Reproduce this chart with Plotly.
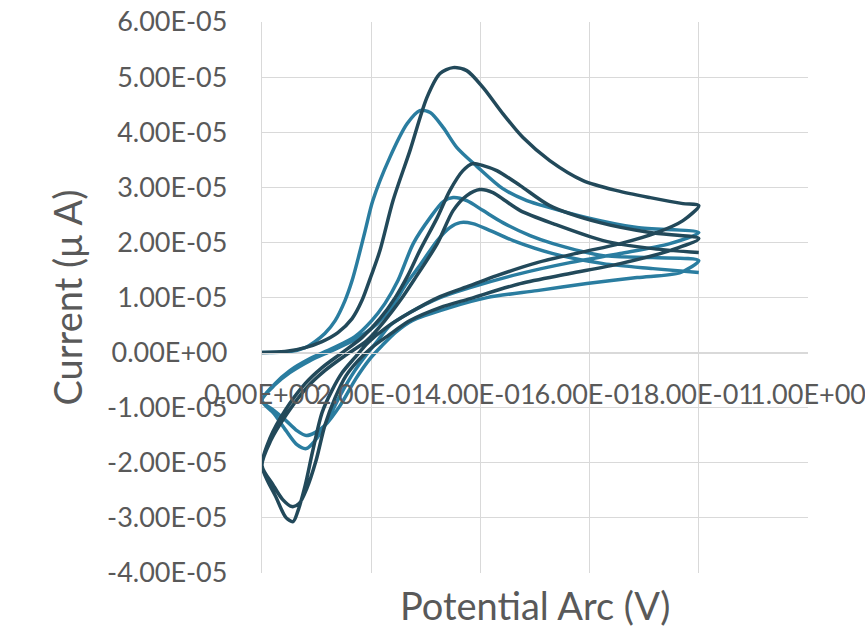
import plotly.graph_objects as go

# ---------------- data (potential in V, current in units of 1E-05 A) ----------------
# Dark series: three cycles (forward 1, reverse 1, forward 2, reverse 2, forward 3)
dark_fwd1_v = [0, 0.042, 0.079, 0.110, 0.139, 0.165, 0.183, 0.200, 0.216, 0.240, 0.271, 0.302, 0.326, 0.350,
               0.375, 0.405, 0.441, 0.478, 0.527, 0.588, 0.650, 0.711, 0.771, 0.80]
dark_fwd1_i = [0, 0.018, 0.091, 0.20, 0.363, 0.617, 0.944, 1.397, 1.851, 2.759, 3.666, 4.628, 5.064, 5.172,
               5.118, 4.809, 4.338, 3.902, 3.485, 3.122, 2.940, 2.813, 2.704, 2.668]
dark_rev1_v = [0.80, 0.771, 0.723, 0.656, 0.582, 0.504, 0.430, 0.381, 0.326, 0.271, 0.225, 0.194, 0.170, 0.147,
               0.128, 0.110, 0.093, 0.079, 0.066, 0.057, 0.044, 0.026, 0]
dark_rev1_i = [2.668, 2.396, 2.178, 1.978, 1.815, 1.633, 1.397, 1.216, 1.016, 0.726, 0.436, 0.181, -0.091, -0.363,
               -0.690, -1.089, -1.779, -2.414, -2.868, -3.067, -2.995, -2.632, -2.051]
dark_fwd2_v = [0, 0.015, 0.042, 0.079, 0.110, 0.147, 0.183, 0.216, 0.244, 0.267, 0.289, 0.321, 0.344, 0.368,
               0.386, 0.405, 0.430, 0.473, 0.527, 0.619, 0.711, 0.80]
dark_fwd2_i = [-2.051, -1.543, -1.053, -0.563, -0.272, 0, 0.272, 0.617, 0.998, 1.397, 1.851, 2.450, 2.940, 3.303,
               3.430, 3.394, 3.303, 3.031, 2.668, 2.359, 2.178, 2.069]
dark_rev2_v = [0.80, 0.747, 0.656, 0.564, 0.473, 0.381, 0.326, 0.271, 0.231, 0.201, 0.176, 0.154, 0.134, 0.115,
               0.099, 0.082, 0.068, 0.055, 0.038, 0.020, 0]
dark_rev2_i = [2.069, 1.851, 1.615, 1.434, 1.252, 0.980, 0.817, 0.581, 0.309, 0.091, -0.145, -0.417, -0.817, -1.325,
               -1.960, -2.468, -2.740, -2.795, -2.668, -2.396, -2.051]
dark_fwd3_v = [0, 0.016, 0.046, 0.082, 0.115, 0.152, 0.192, 0.225, 0.253, 0.280, 0.321, 0.350, 0.375, 0.399,
               0.423, 0.445, 0.473, 0.533, 0.625, 0.716, 0.80]
dark_fwd3_i = [-2.051, -1.597, -1.107, -0.635, -0.327, -0.054, 0.218, 0.581, 0.944, 1.343, 1.978, 2.577, 2.849, 2.958,
               2.904, 2.759, 2.577, 2.341, 2.033, 1.887, 1.815]

# Light series: three cycles
light_fwd1_v = [0, 0.051, 0.079, 0.097, 0.115, 0.134, 0.152, 0.165, 0.176, 0.189, 0.203, 0.234, 0.266, 0.289,
                0.308, 0.332, 0.357, 0.394, 0.441, 0.485, 0.527, 0.595, 0.687, 0.80]
light_fwd1_i = [0, 0.018, 0.091, 0.200, 0.345, 0.581, 0.944, 1.307, 1.706, 2.214, 2.759, 3.539, 4.156, 4.392,
                4.356, 4.083, 3.721, 3.376, 2.976, 2.759, 2.632, 2.450, 2.269, 2.178]
light_rev1_v = [0.80, 0.747, 0.656, 0.564, 0.473, 0.381, 0.326, 0.271, 0.234, 0.212, 0.194, 0.170, 0.143, 0.115,
                0.097, 0.081, 0.064, 0.044, 0.022, 0]
light_rev1_i = [2.178, 1.978, 1.797, 1.633, 1.434, 1.180, 0.998, 0.726, 0.490, 0.218, 0, -0.327, -0.780, -1.325,
                -1.597, -1.742, -1.670, -1.416, -1.107, -0.871]
light_fwd2_v = [0, 0.024, 0.051, 0.088, 0.128, 0.170, 0.201, 0.225, 0.249, 0.277, 0.308, 0.332, 0.350, 0.375,
                0.405, 0.441, 0.491, 0.533, 0.625, 0.716, 0.80]
light_fwd2_i = [-0.871, -0.563, -0.327, -0.109, 0.073, 0.290, 0.581, 0.889, 1.307, 1.978, 2.450, 2.740, 2.813, 2.759,
                2.577, 2.359, 2.123, 1.978, 1.760, 1.724, 1.670]
light_rev2_v = [0.80, 0.766, 0.687, 0.595, 0.504, 0.412, 0.344, 0.275, 0.244, 0.220, 0.198, 0.172, 0.143, 0.115,
                0.097, 0.081, 0.064, 0.044, 0.022, 0]
light_rev2_i = [1.670, 1.452, 1.361, 1.252, 1.125, 0.998, 0.817, 0.581, 0.363, 0.127, -0.109, -0.472, -0.962, -1.325,
                -1.452, -1.506, -1.416, -1.234, -1.053, -0.871]
light_fwd3_v = [0, 0.024, 0.051, 0.088, 0.128, 0.174, 0.211, 0.240, 0.262, 0.289, 0.321, 0.344, 0.363, 0.386,
                0.418, 0.460, 0.533, 0.625, 0.716, 0.80]
light_fwd3_i = [-0.871, -0.581, -0.363, -0.145, 0.036, 0.254, 0.526, 0.853, 1.216, 1.579, 2.033, 2.269, 2.359, 2.341,
                2.214, 2.033, 1.797, 1.615, 1.524, 1.452]

CURRENT_UNIT = 1e-5

x_tick_vals = [0, 0.2, 0.4, 0.6, 0.8, 1.0]
x_tick_text = ["0.00E+00", "2.00E-01", "4.00E-01", "6.00E-01", "8.00E-01", "1.00E+00"]
y_tick_vals = [6e-5, 5e-5, 4e-5, 3e-5, 2e-5, 1e-5, 0, -1e-5, -2e-5, -3e-5, -4e-5]
y_tick_text = ["6.00E-05", "5.00E-05", "4.00E-05", "3.00E-05", "2.00E-05", "1.00E-05",
               "0.00E+00", "-1.00E-05", "-2.00E-05", "-3.00E-05", "-4.00E-05"]

x_title = "Potential Arc (V)"
y_title = "Current (\u03bc A)"

DARK = "#22495a"
LIGHT = "#2a7da0"
GRID = "#d9d9d9"
TEXT = "#595959"
FONT = "Lato"


def join(*parts):
    out = []
    for p in parts:
        out.extend(p if not out else p[1:])
    return out


dark_v = join(dark_fwd1_v, dark_rev1_v, dark_fwd2_v, dark_rev2_v, dark_fwd3_v)
dark_i = [c * CURRENT_UNIT for c in join(dark_fwd1_i, dark_rev1_i, dark_fwd2_i, dark_rev2_i, dark_fwd3_i)]
light_v = join(light_fwd1_v, light_rev1_v, light_fwd2_v, light_rev2_v, light_fwd3_v)
light_i = [c * CURRENT_UNIT for c in join(light_fwd1_i, light_rev1_i, light_fwd2_i, light_rev2_i, light_fwd3_i)]

fig = go.Figure()
fig.add_trace(go.Scatter(x=light_v, y=light_i, mode="lines",
                         line=dict(color=LIGHT, width=3.5, shape="spline", smoothing=0.8),
                         name="light", hoverinfo="skip"))
fig.add_trace(go.Scatter(x=dark_v, y=dark_i, mode="lines",
                         line=dict(color=DARK, width=3.5, shape="spline", smoothing=0.8),
                         name="dark", hoverinfo="skip"))

fig.update_layout(
    width=865, height=638,
    margin=dict(l=262, r=57, t=22, b=65),
    plot_bgcolor="white", paper_bgcolor="white",
    showlegend=False,
    font=dict(family=FONT, color=TEXT),
    xaxis=dict(
        range=[0, 1.0], tickvals=x_tick_vals, ticktext=x_tick_text,
        showgrid=True, gridcolor=GRID, gridwidth=1.3,
        anchor="free", position=0.4, automargin=False,
        showline=True, linecolor=GRID, linewidth=1.3,
        zeroline=False, ticks="", tickangle=0, ticklabeloverflow="allow",
        tickfont=dict(size=27, color=TEXT, family=FONT),
        ticklabelstandoff=18,
    ),
    yaxis=dict(
        range=[-4e-5, 6e-5], tickvals=y_tick_vals, ticktext=y_tick_text,
        showgrid=True, gridcolor=GRID, gridwidth=1.3, automargin=False,
        showline=True, linecolor=GRID, linewidth=1.3,
        zeroline=False, ticks="", tickfont=dict(size=27, color=TEXT, family=FONT),
        ticklabelstandoff=28,
        title=dict(text=y_title, font=dict(size=38, color=TEXT, family=FONT), standoff=12),
    ),
    annotations=[dict(text=x_title, xref="paper", yref="paper", x=0.5, y=-0.058,
                      xanchor="center", yanchor="middle", showarrow=False,
                      font=dict(size=38, color=TEXT, family=FONT))],
)

fig.write_html("out.html")
